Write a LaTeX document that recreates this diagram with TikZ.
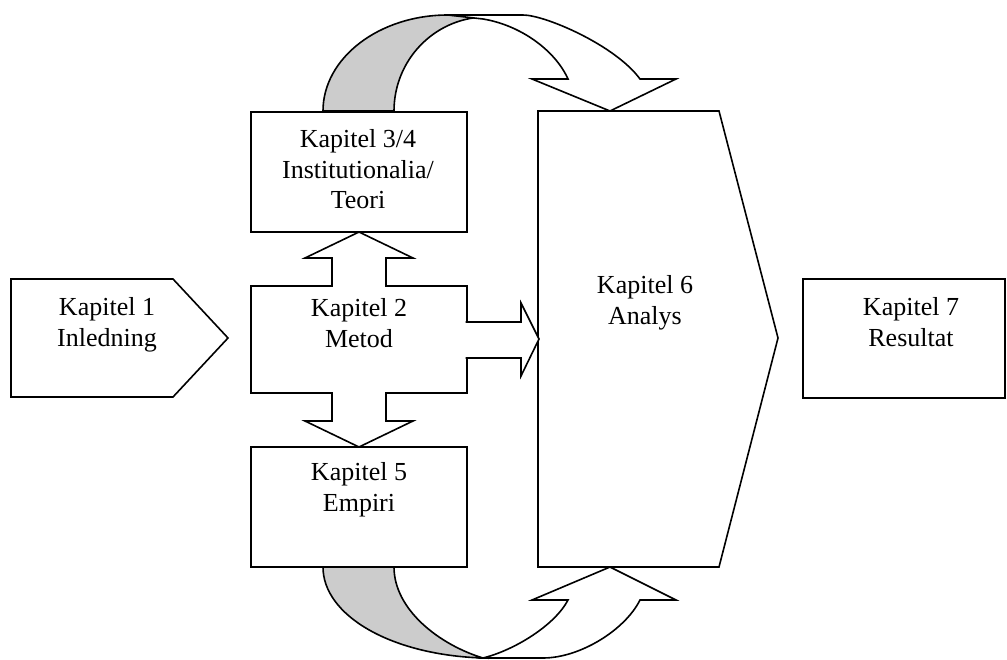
\documentclass[tikz,border=0pt]{standalone}
\usepackage{fontspec}
\setmainfont{Liberation Serif}
\definecolor{bandgray}{RGB}{204,204,204}
\tikzset{
  outline/.style={draw=black, line width=1.2pt, line join=miter},
  shapebox/.style={outline, fill=white},
  band/.style={outline, fill=bandgray},
  lbl/.style={anchor=north, inner sep=0pt, align=center,
    font=\fontsize{19.5pt}{22.9pt}\selectfont},
}
\begin{document}
\begin{tikzpicture}[x=0.75pt, y=-0.75pt]
\useasboundingbox (0,0) rectangle (1007,660);

% top curved arrow (back band, then front band)
\draw[band] (323,111) .. controls (323,58) and (379,15) .. (448,15)
  -- (483,17) .. controls (434,19) and (394,60) .. (394,111) -- cycle;
\draw[shapebox] (448,15) -- (523,15) .. controls (545,15) and (615,45) .. (640,79)
  -- (676,79) -- (610,111) -- (532,79) -- (568,79)
  .. controls (555,50) and (520,25) .. (483,19) -- cycle;

% bottom curved arrow
\draw[band] (323,567) .. controls (323,615) and (390,655) .. (483,658)
  .. controls (440,645) and (394,610) .. (394,567) -- cycle;
\draw[shapebox] (483,658) -- (543,658) .. controls (580,658) and (625,630) .. (640,600)
  -- (676,600) -- (610,567) -- (532,600) -- (568,600)
  .. controls (555,625) and (515,650) .. (483,658) -- cycle;

% Kapitel 1 pentagon
\draw[shapebox] (11,279) -- (173,279) -- (228,338) -- (173,397) -- (11,397) -- cycle;
\node[lbl] (k1) at (107,297.2) {Kapitel 1\\Inledning};

% Kapitel 3/4 box
\draw[shapebox] (251,112) rectangle (467,232);
\node[lbl] (k34) at (358,129.2) {Kapitel 3/4\\Institutionalia/\\Teori};

% Kapitel 2 box with up and down arrows
\draw[shapebox] (251,286) -- (332,286) -- (332,258) -- (305,258) -- (359,232)
  -- (413,258) -- (386,258) -- (386,286) -- (467,286) -- (467,393)
  -- (386,393) -- (386,421) -- (413,421) -- (359,447) -- (305,421)
  -- (332,421) -- (332,393) -- (251,393) -- cycle;
\node[lbl] (k2) at (359,298.2) {Kapitel 2\\Metod};

% Kapitel 5 box
\draw[shapebox] (251,447) rectangle (467,567);
\node[lbl] (k5) at (359,462.2) {Kapitel 5\\Empiri};

% Kapitel 6 pentagon
\draw[shapebox] (538,111) -- (719,111) -- (778,338) -- (719,567) -- (538,567) -- cycle;
\node[lbl] (k6) at (645,275.2) {Kapitel 6\\Analys};

% arrow Metod -> Analys
\draw[shapebox] (465.5,322) -- (521,322) -- (521,303) -- (539,339) -- (521,376)
  -- (521,358) -- (465.5,358);

% Kapitel 7 box
\draw[shapebox] (803,279) rectangle (1005,398);
\node[lbl] (k7) at (911,297.2) {Kapitel 7\\Resultat};
\end{tikzpicture}
\end{document}
